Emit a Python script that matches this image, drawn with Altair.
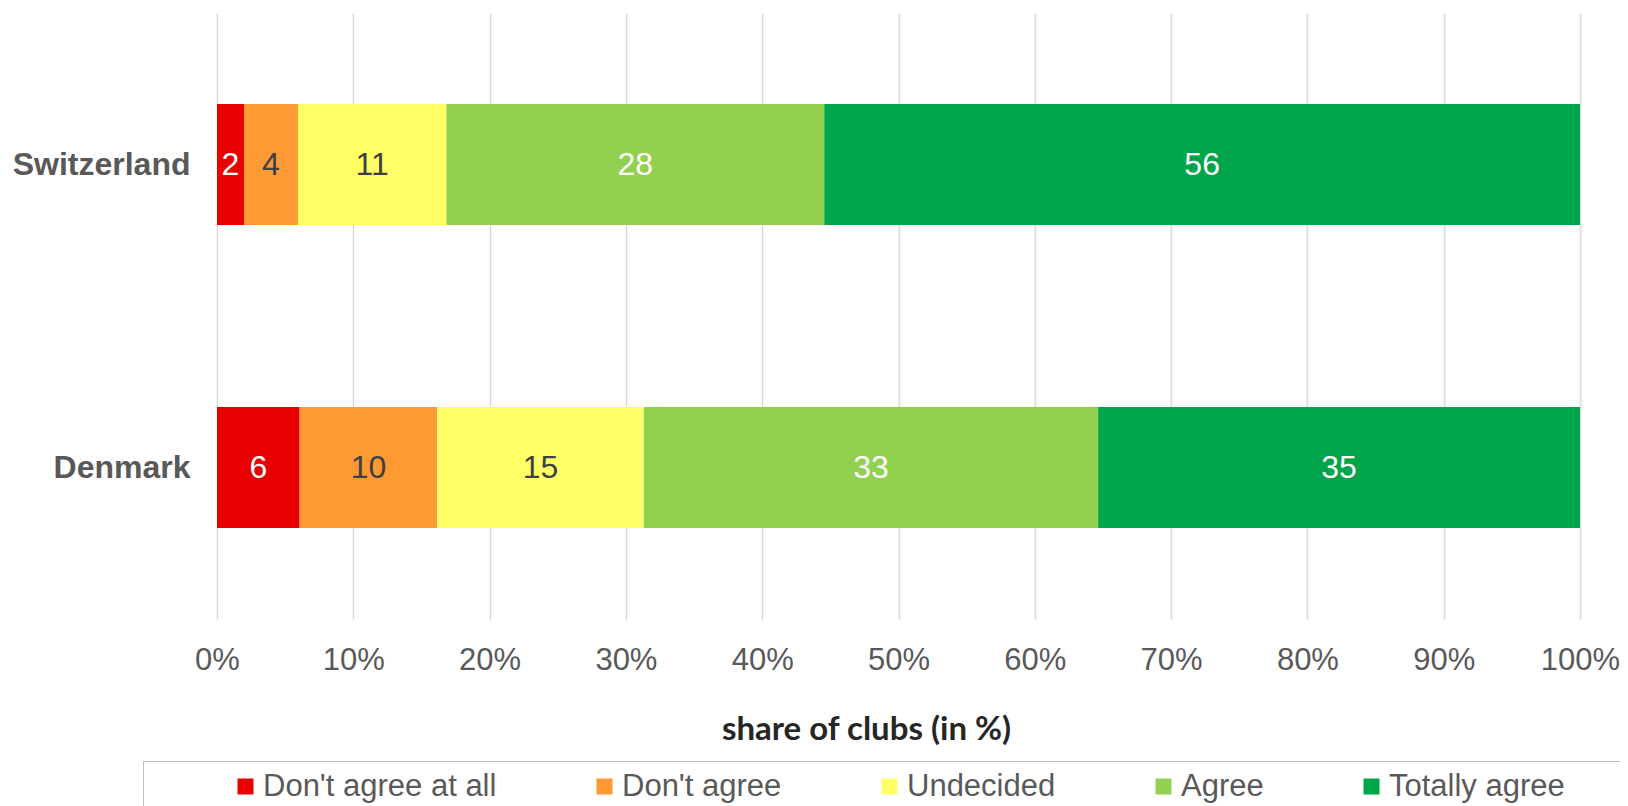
import altair as alt
import pandas as pd

countries = ["Switzerland", "Denmark"]
categories = ["Don't agree at all", "Don't agree", "Undecided", "Agree", "Totally agree"]
switzerland = [2, 4, 11, 28, 56]
denmark = [6, 10, 15, 33, 35]
colors = ["#E80000", "#FF9933", "#FFFF66", "#92D050", "#00A44A"]
ticks = [0, 0.1, 0.2, 0.3, 0.4, 0.5, 0.6, 0.7, 0.8, 0.9, 1.0]

rows = []
for country, vals in zip(countries, [switzerland, denmark]):
    for i, (cat, v) in enumerate(zip(categories, vals)):
        rows.append({"country": country, "category": cat, "value": v, "order": i})
df = pd.DataFrame(rows)

FONT = "Liberation Sans"
FS = 32
# invisible trailing filler so the legend frame runs off the right edge
FILL = "\u00a0" * 6 + "\u200b"

y_enc = alt.Y(
    "country:N",
    sort=countries,
    scale=alt.Scale(paddingInner=0.6, paddingOuter=0.3),
    axis=alt.Axis(
        title=None, labelFont=FONT, labelFontSize=FS, labelFontWeight="bold",
        labelColor="#595959", labelPadding=27, ticks=False, domain=False,
    ),
)

bars = alt.Chart(df).mark_bar().encode(
    y=y_enc,
    x=alt.X(
        "value:Q",
        stack="normalize",
        scale=alt.Scale(domain=[0, 1]),
        axis=alt.Axis(
            values=ticks, format=".0%", labelFont=FONT, labelFontSize=31,
            labelColor="#595959", labelPadding=26, ticks=False, domain=False,
            grid=True, gridColor="#D9D9D9", gridWidth=1.5, labelFlush=False,
            labelOverlap=False,
            title="share of clubs (in %)", titleFont="Lato", titleFontWeight="bold",
            titleFontSize=33, titleColor="#262626", titleX=649, titleY=110,
            titleAlign="center", titleBaseline="middle",
        ),
    ),
    color=alt.Color(
        "category:N",
        sort=categories,
        scale=alt.Scale(domain=categories, range=colors),
        legend=alt.Legend(
            orient="none", legendX=-74, legendY=748, direction="horizontal",
            columns=5, gridAlign="none", title=" ", titleOrient="left",
            titleFontSize=1, titlePadding=77, symbolType="square",
            symbolSize=256, symbolStrokeWidth=0, symbolOpacity=1,
            labelFont=FONT, labelFontSize=31, labelColor="#595959",
            labelOffset=2, columnPadding=92, padding=10,
            strokeColor="#BFBFBF", labelLimit=900,
            labelExpr="datum.label == 'Totally agree' ? 'Totally agree" + FILL + "' : datum.label",
        ),
    ),
    order=alt.Order("order:Q"),
)

labels = alt.Chart(df).transform_stack(
    stack="value",
    groupby=["country"],
    as_=["s0", "s1"],
    offset="normalize",
    sort=[alt.SortField("order", order="ascending")],
).transform_calculate(
    mid="(datum.s0 + datum.s1) / 2"
).mark_text(font=FONT, fontSize=FS, baseline="middle", align="center").encode(
    y=alt.Y("country:N", sort=countries),
    x=alt.X("mid:Q", scale=alt.Scale(domain=[0, 1])),
    text=alt.Text("value:Q"),
    color=alt.condition("datum.order == 1 || datum.order == 2",
                        alt.value("#404040"), alt.value("#FFFFFF")),
)

chart = alt.layer(bars, labels).properties(
    width=1363,
    height=606,
    autosize=alt.AutoSizeParams(type="none"),
    padding={"left": 209, "top": 5, "right": 40, "bottom": 187},
    background="white",
).configure_view(strokeWidth=0)

chart.save("out.html", embed_options={"renderer": "svg", "actions": False})
